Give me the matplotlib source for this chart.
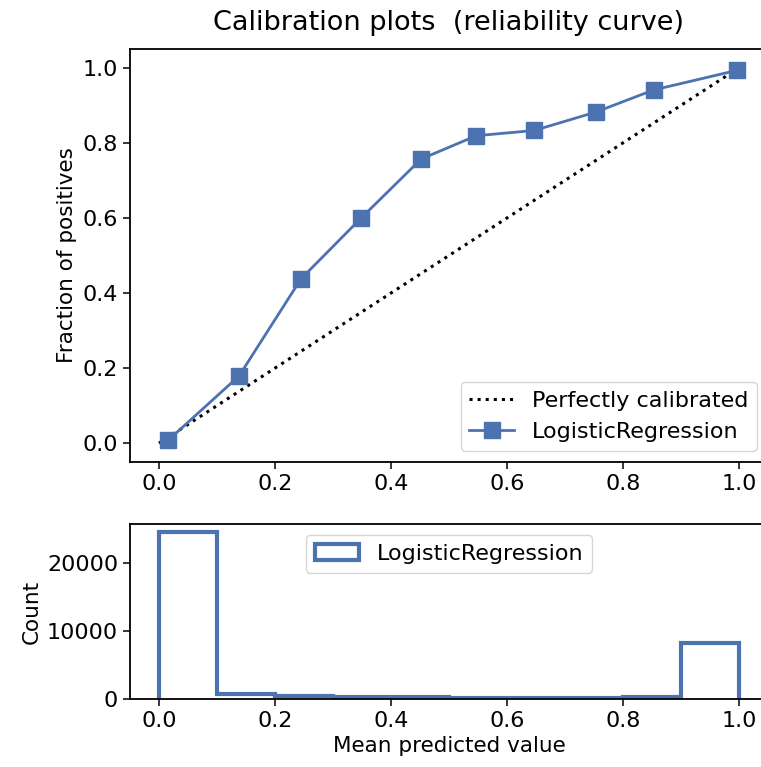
import matplotlib
matplotlib.use("Agg")
import matplotlib.pyplot as plt
import numpy as np

# reliability curve for the logistic regression model
mean_predicted = [0.016, 0.138, 0.245, 0.348, 0.452, 0.547, 0.647, 0.753, 0.853, 0.996]
fraction_positives = [0.008, 0.179, 0.438, 0.599, 0.757, 0.819, 0.833, 0.882, 0.941, 0.993]

# histogram of predicted probabilities (10 bins over [0, 1])
bin_edges = [0.0, 0.1, 0.2, 0.3, 0.4, 0.5, 0.6, 0.7, 0.8, 0.9, 1.0]
bin_counts = [24500, 730, 380, 280, 220, 200, 200, 210, 280, 8200]

blue = "#4c72b0"
plt.rcParams["font.family"] = "DejaVu Sans"
plt.rcParams["axes.linewidth"] = 1.3
plt.rcParams["xtick.major.width"] = 1.1
plt.rcParams["ytick.major.width"] = 1.1
plt.rcParams["xtick.major.size"] = 5
plt.rcParams["ytick.major.size"] = 5

fig = plt.figure(figsize=(7.61, 7.67), dpi=100)
ax1 = fig.add_axes([0.1708, 0.3977, 0.8384, 0.5384])
ax2 = fig.add_axes([0.1708, 0.0887, 0.8384, 0.2282])

ax1.plot([0, 1], [0, 1], "k:", lw=2.2, label="Perfectly calibrated")
ax1.plot(mean_predicted, fraction_positives, "s-", color=blue, lw=2, ms=12,
         label="LogisticRegression")
ax1.set_xlim(-0.05, 1.05)
ax1.set_ylim(-0.05, 1.05)
ax1.set_ylabel("Fraction of positives", fontsize=15.5)
ax1.set_title("Calibration plots  (reliability curve)", fontsize=19.5, pad=14)
ax1.legend(loc="lower right", fontsize=16, fancybox=True, framealpha=0.8,
           handlelength=2.0, borderpad=0.4)
ax1.tick_params(labelsize=16)

centers = [(a + b) / 2 for a, b in zip(bin_edges[:-1], bin_edges[1:])]
ax2.hist(centers, bins=bin_edges, weights=bin_counts, histtype="step", lw=3,
         color=blue, label="LogisticRegression")
ax2.set_xlim(-0.05, 1.05)
ax2.set_ylim(0, max(bin_counts) * 1.05)
ax2.set_yticks([0, 10000, 20000])
ax2.set_xlabel("Mean predicted value", fontsize=15.5)
ax2.set_ylabel("Count", fontsize=15.5)
ax2.legend(loc="upper center", ncol=2, fontsize=16, framealpha=0.8)
ax2.tick_params(labelsize=16)

fig.savefig("out.png", dpi=100)
